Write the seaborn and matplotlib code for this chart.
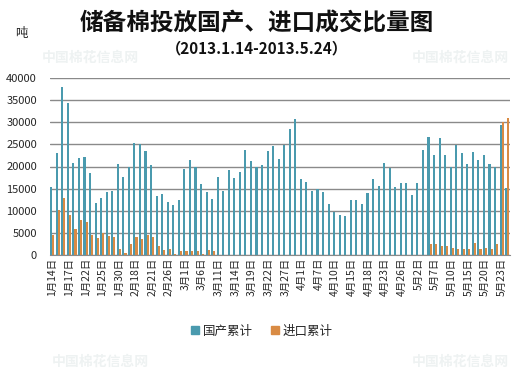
import pandas as pd
import seaborn as sns
import matplotlib.pyplot as plt
from matplotlib.patches import Patch

# trading days of the auction (2013)
dates = ['1月14日', '1月15日', '1月16日', '1月17日', '1月18日', '1月21日', '1月22日', '1月23日',
         '1月24日', '1月25日', '1月28日', '1月29日', '1月30日', '1月31日', '2月1日', '2月18日',
         '2月19日', '2月20日', '2月21日', '2月22日', '2月25日', '2月26日', '2月27日', '2月28日',
         '3月1日', '3月4日', '3月5日', '3月6日', '3月7日', '3月8日', '3月11日', '3月12日',
         '3月13日', '3月14日', '3月15日', '3月18日', '3月19日', '3月20日', '3月21日', '3月22日',
         '3月25日', '3月26日', '3月27日', '3月28日', '3月29日', '4月1日', '4月2日', '4月3日',
         '4月7日', '4月8日', '4月9日', '4月10日', '4月11日', '4月12日', '4月15日', '4月16日',
         '4月17日', '4月18日', '4月19日', '4月22日', '4月23日', '4月24日', '4月25日', '4月26日',
         '4月27日', '4月28日', '5月2日', '5月3日', '5月6日', '5月7日', '5月8日', '5月9日',
         '5月10日', '5月13日', '5月14日', '5月15日', '5月16日', '5月17日', '5月20日', '5月21日',
         '5月22日', '5月23日', '5月24日']

# 国产累计 (ton)
domestic = [15300, 23000, 37900, 34300, 20800, 22000, 22100, 18500, 11800, 12900,
            14300, 14500, 20600, 17700, 20000, 25300, 25000, 23500, 20300, 13300,
            13800, 12000, 11300, 12400, 19400, 21500, 20000, 16000, 14200, 12700,
            17600, 14500, 19200, 17400, 18700, 23700, 21300, 20000, 20300, 23600,
            24600, 21700, 24900, 28500, 30700, 17200, 16500, 14500, 14900, 14200,
            11500, 9700, 9000, 8800, 12400, 12400, 11500, 14000, 17200, 15600,
            20800, 19700, 15400, 16300, 16300, 13600, 16300, 23700, 26700, 22600,
            26400, 22600, 20000, 24900, 23000, 20600, 23300, 21500, 22600, 20600,
            20000, 29400, 15100]

# 进口累计 (ton)
imported = [4600, 10200, 12900, 9000, 5900, 7900, 7500, 4600, 3800, 4900,
            4300, 4100, 1400, 500, 2500, 4100, 3600, 4500, 4100, 2000,
            1200, 1400, 200, 900, 900, 900, 900, 200, 1100, 900,
            0, 0, 0, 0, 0, 0, 0, 0, 0, 0,
            0, 0, 0, 0, 0, 0, 0, 0, 0, 0,
            0, 0, 0, 0, 0, 0, 0, 0, 0, 0,
            0, 0, 0, 0, 0, 0, 0, 0, 2500, 2500,
            2000, 2000, 1600, 1400, 1400, 1400, 2700, 1400, 1600, 1400,
            2500, 30000, 31000]

series_names = ['国产累计', '进口累计']
colors = ['#4A9AAE', '#D98B44']

df = pd.DataFrame({'date': dates, series_names[0]: domestic, series_names[1]: imported})
df_long = df.melt(id_vars='date', var_name='type', value_name='ton')

sns.set_style('white')
plt.rcParams['font.family'] = ['Noto Sans CJK SC', 'DejaVu Sans']

W, H = 525, 371
fig = plt.figure(figsize=(W / 100, H / 100), dpi=100)
ax = fig.add_axes([49.5 / W, 1 - 255 / H, (510 - 49.5) / W, (255 - 78) / H])

# faint site watermarks
for x, y in [(90, 58), (460, 58), (100, 362), (460, 362)]:
    fig.text(x / W, 1 - y / H, '中国棉花信息网', fontsize=10, color='#eef2f2',
             ha='center', va='center', weight='bold')

# bars are only ~2px wide, so no white edges
sns.barplot(data=df_long, x='date', y='ton', hue='type', palette=colors,
            width=0.76, errorbar=None, legend=False, ax=ax,
            linewidth=0, edgecolor='none', saturation=1)

ax.set_xlim(-0.5, len(dates) - 0.5)
ax.set_ylim(0, 40000)
ax.set_yticks(range(0, 40001, 5000))
ax.set_yticklabels([str(v) for v in range(0, 40001, 5000)], fontsize=8)
ax.yaxis.grid(True, color='#8a8a8a', linewidth=1)
ax.set_axisbelow(True)

ticks = list(range(0, len(dates), 3))
ax.set_xticks(ticks)
ax.set_xticklabels([dates[i] for i in ticks], rotation=90, fontsize=7.5)
ax.tick_params(axis='y', length=0, pad=9)
ax.tick_params(axis='x', length=0, pad=2)
ax.set_xlabel('')
ax.set_ylabel('')

for s in ['top', 'right', 'left']:
    ax.spines[s].set_visible(False)
ax.spines['bottom'].set_color('#8a8a8a')

fig.text(257 / W, 1 - 23 / H, '储备棉投放国产、进口成交比量图', fontsize=17,
         weight='bold', ha='center', va='center', color='#111111')
fig.text(257 / W, 1 - 48 / H, '（2013.1.14-2013.5.24）', fontsize=11,
         weight='bold', ha='center', va='center', color='#111111')
fig.text(21 / W, 1 - 33 / H, '吨', fontsize=9, ha='center', va='center')

handles = [Patch(color=c, label=n) for c, n in zip(colors, series_names)]
fig.legend(handles=handles, loc='center', bbox_to_anchor=(262 / W, 1 - 331 / H),
           ncol=2, frameon=False, fontsize=9, handlelength=0.6, handleheight=0.6,
           handletextpad=0.3, columnspacing=1.5)

fig.savefig('out.png', dpi=100)
